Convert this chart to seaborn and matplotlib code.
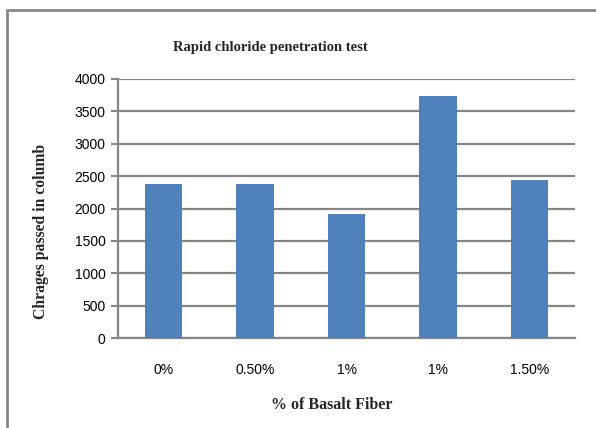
import matplotlib
matplotlib.use("Agg")
import matplotlib.pyplot as plt
import seaborn as sns
import pandas as pd
from matplotlib.patches import Rectangle

categories = ["0%", "0.50%", "1%", "1%", "1.50%"]
charges = [2380, 2380, 1915, 3740, 2440]
yticks = [0, 500, 1000, 1500, 2000, 2500, 3000, 3500, 4000]

df = pd.DataFrame({"pos": [f"c{i}" for i in range(len(categories))],
                   "label": categories, "val": charges})

sns.set_theme(style="white")
plt.rcParams['font.family'] = ['Liberation Sans', 'DejaVu Sans']

W, H = 596, 428
fig = plt.figure(figsize=(W / 100, H / 100), dpi=100)
ax = fig.add_axes([118 / W, 1 - 338 / H, (575 - 118) / W, (338 - 79) / H])

sns.barplot(data=df, x="pos", y="val", color="#4F81BD", saturation=1,
            width=0.41, ax=ax, zorder=3, linewidth=0, edgecolor="none")

ax.set_ylim(0, 4000)
ax.set_xlim(-0.5, len(categories) - 0.5)
ax.set_yticks(yticks)
ax.set_xticks(range(len(categories)))
ax.set_xticklabels(categories)
ax.tick_params(axis="y", length=5, width=1.5, color="#868686", labelsize=10,
               labelcolor="#000000", pad=4, left=True)
ax.tick_params(axis="x", length=0, labelsize=10, pad=18, labelcolor="#000000")
ax.yaxis.grid(True, color="#868686", linewidth=1.6, zorder=0)
ax.set_axisbelow(True)
for s in ["top", "right"]:
    ax.spines[s].set_visible(False)
for s in ["left", "bottom"]:
    ax.spines[s].set_color("#868686")
    ax.spines[s].set_linewidth(1.6)

serif = ['Liberation Serif', 'DejaVu Serif']
ax.set_xlabel("")
ax.set_ylabel("")
fig.text(332 / W, 1 - 405 / H, "% of Basalt Fiber", family=serif,
         fontweight="bold", fontsize=11.5, ha="center", va="center")
fig.text(41 / W, 1 - 231 / H, "Chrages passed in columb", family=serif,
         fontweight="bold", fontsize=11.3, ha="center", va="center",
         rotation=90)
fig.text(270 / W, 1 - 47 / H, "Rapid chloride penetration test", family=serif,
         fontweight="bold", fontsize=10.5, ha="center", va="center")

fig.patches.append(Rectangle((7 / W, -0.1), 1.2, 1 - 10 / H + 0.1,
                             transform=fig.transFigure, fill=False,
                             edgecolor="#888888", linewidth=2))

fig.savefig("out.png", dpi=100)
